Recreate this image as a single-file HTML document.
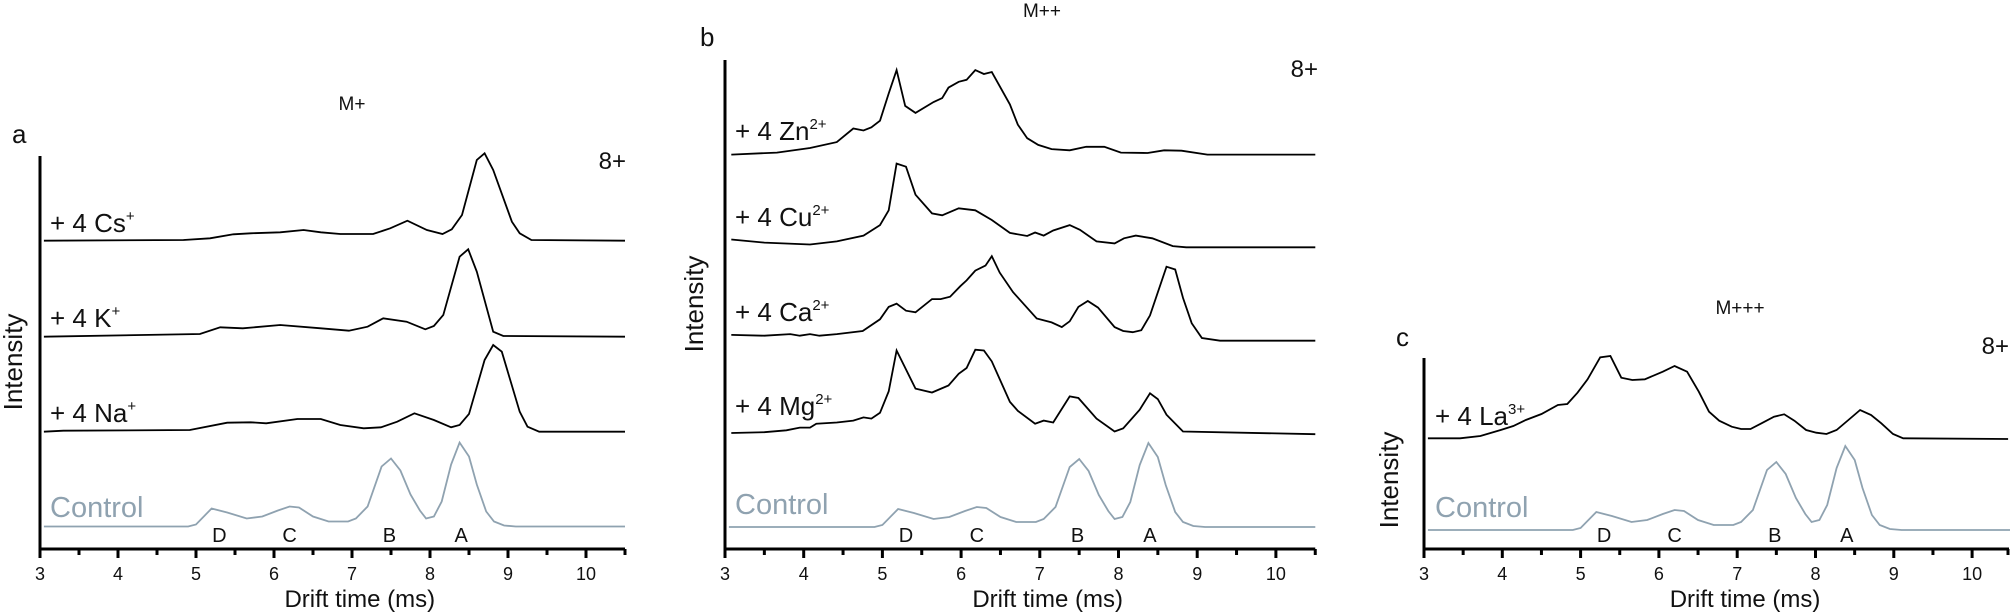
<!DOCTYPE html>
<html><head><meta charset="utf-8">
<style>
html,body{margin:0;padding:0;background:#fff;}
svg{display:block;font-family:"Liberation Sans",sans-serif;}
</style></head>
<body>
<svg id="s" width="2010" height="613" viewBox="0 0 2010 613" xmlns="http://www.w3.org/2000/svg">
<g font-size="19" fill="#111">
<text x="352" y="110" text-anchor="middle">M+</text>
<text x="1042" y="17" text-anchor="middle">M++</text>
<text x="1740" y="314" text-anchor="middle">M+++</text>
</g>
<g font-size="26" fill="#111">
<text x="12" y="143">a</text>
<text x="700" y="46">b</text>
<text x="1396" y="346">c</text>
</g>
<g font-size="24" fill="#111" text-anchor="end">
<text x="626" y="169">8+</text>
<text x="1318" y="77">8+</text>
<text x="2009" y="354">8+</text>
</g>
<g font-size="26" fill="#111">
<text x="50" y="232">+ 4 Cs<tspan font-size="15" dy="-11">+</tspan></text>
<text x="50" y="327">+ 4 K<tspan font-size="15" dy="-11">+</tspan></text>
<text x="50" y="422">+ 4 Na<tspan font-size="15" dy="-11">+</tspan></text>
<text x="735" y="140">+ 4 Zn<tspan font-size="15" dy="-11">2+</tspan></text>
<text x="735" y="226">+ 4 Cu<tspan font-size="15" dy="-11">2+</tspan></text>
<text x="735" y="321">+ 4 Ca<tspan font-size="15" dy="-11">2+</tspan></text>
<text x="735" y="415">+ 4 Mg<tspan font-size="15" dy="-11">2+</tspan></text>
<text x="1435" y="425">+ 4 La<tspan font-size="15" dy="-11">3+</tspan></text>
</g>
<g font-size="29" fill="#8fa2b0">
<text x="50" y="517">Control</text>
<text x="735" y="514">Control</text>
<text x="1435" y="517">Control</text>
</g>
<g font-size="26" fill="#111" text-anchor="middle">
<text transform="translate(22,362) rotate(-90)">Intensity</text>
<text transform="translate(703,304) rotate(-90)">Intensity</text>
<text transform="translate(1398,480) rotate(-90)">Intensity</text>
</g>
<g id="dyn"></g>
</svg>
<script>
(function(){
var NS="http://www.w3.org/2000/svg",g=document.getElementById("dyn");
function el(n,a,t){var e=document.createElementNS(NS,n);for(var k in a)e.setAttribute(k,a[k]);if(t!==undefined)e.textContent=t;g.appendChild(e);return e;}
var ctrl=[[3.05,0],[4.9,0],[5.0,2],[5.2,18],[5.4,14],[5.65,8],[5.85,10],[6.05,16],[6.2,20],[6.32,19],[6.5,10],[6.7,5],[6.95,5],[7.05,8],[7.2,20],[7.38,60],[7.5,68],[7.62,56],[7.75,32],[7.87,16],[7.95,8],[8.05,10],[8.15,25],[8.27,62],[8.38,84],[8.5,70],[8.6,42],[8.72,15],[8.82,5],[8.95,1],[9.1,0],[10.5,0]];
var P=[
 {x0:40,s:78,top:156,bot:549,cb:526.5,series:[
  {f:function(z){return z/3+90},d:[[3.05,452],[4.84,450],[5.18,445],[5.48,433],[5.7,430],[6.08,427],[6.38,420],[6.6,427],[6.85,432],[7.27,432],[7.49,415],[7.71,392],[7.96,420],[8.16,432],[8.28,418],[8.41,375],[8.6,210],[8.7,190],[8.81,240],[9.05,395],[9.15,430],[9.3,450],[10.5,452]]},
  {f:function(z){return z/3+90},d:[[3.05,740],[5.05,732],[5.31,712],[5.6,715],[6.08,705],[6.6,715],[6.96,722],[7.2,710],[7.4,685],[7.7,695],[7.94,718],[8.05,708],[8.17,675],[8.38,500],[8.49,478],[8.6,545],[8.81,725],[8.94,738],[10.5,740]]},
  {f:function(z){return z/3+90},d:[[3.05,1025],[3.3,1022],[4.92,1020],[5.4,998],[5.7,997],[5.9,1000],[6.3,987],[6.6,987],[6.85,1005],[7.15,1015],[7.37,1012],[7.58,995],[7.8,970],[8.05,990],[8.27,1012],[8.38,1005],[8.5,972],[8.7,810],[8.81,765],[8.92,785],[9.15,965],[9.25,1010],[9.4,1025],[10.5,1025]]}
 ]},
 {x0:725,s:78.7,top:60,bot:549,cb:527,series:[
  {f:function(z){return z/2.568},d:[[3.08,397],[3.66,392],[4.08,380],[4.42,365],[4.63,330],[4.76,335],[4.86,327],[4.97,310],[5.08,240],[5.18,180],[5.29,272],[5.42,290],[5.65,262],[5.76,252],[5.84,225],[5.97,210],[6.07,205],[6.18,180],[6.29,190],[6.39,185],[6.62,268],[6.72,320],[6.84,355],[6.98,372],[7.15,383],[7.38,386],[7.59,377],[7.82,377],[8.03,392],[8.37,393],[8.58,386],[8.8,387],[9.13,397],[10.5,397]]},
  {f:function(z){return z/2.568},d:[[3.08,615],[3.5,623],[4.08,628],[4.42,620],[4.76,605],[4.97,578],[5.08,540],[5.18,420],[5.3,428],[5.42,500],[5.63,548],[5.76,553],[5.97,535],[6.18,540],[6.39,565],[6.62,598],[6.84,606],[6.94,597],[7.05,605],[7.17,592],[7.38,578],[7.51,590],[7.72,620],[7.95,625],[8.07,612],[8.22,605],[8.43,612],[8.69,632],[8.86,635],[10.5,635]]},
  {f:function(z){return z/2.568},d:[[3.08,860],[3.5,862],[3.83,858],[3.95,862],[4.08,858],[4.2,862],[4.42,858],[4.75,850],[4.97,820],[5.08,788],[5.18,780],[5.3,798],[5.42,802],[5.63,768],[5.74,768],[5.86,762],[5.99,735],[6.07,720],[6.18,695],[6.31,682],[6.39,658],[6.49,700],[6.66,750],[6.96,818],[7.15,828],[7.28,840],[7.38,825],[7.49,788],[7.61,773],[7.74,790],[7.95,840],[8.06,850],[8.18,853],[8.29,848],[8.4,810],[8.61,685],[8.72,692],[8.82,765],[8.93,830],[9.06,868],[9.29,875],[10.5,875]]},
  {f:function(z){return z/2.568},d:[[3.08,1112],[3.5,1110],[3.78,1105],[3.95,1098],[4.08,1098],[4.16,1088],[4.42,1085],[4.63,1080],[4.76,1072],[4.86,1075],[4.97,1060],[5.08,1005],[5.18,900],[5.42,998],[5.63,1008],[5.84,990],[5.97,960],[6.07,945],[6.18,898],[6.29,900],[6.39,928],[6.62,1032],[6.72,1055],[6.94,1088],[7.05,1080],[7.17,1085],[7.38,1018],[7.49,1022],[7.72,1075],[7.95,1108],[8.06,1100],[8.27,1052],[8.4,1010],[8.5,1025],[8.61,1065],[8.82,1108],[10.5,1115]]}
 ]},
 {x0:1424,s:78.3,top:358,bot:549,cb:530,series:[
  {f:function(z){return z/3+250},d:[[3.05,565],[3.46,565],[3.72,558],[3.98,540],[4.14,528],[4.3,510],[4.5,492],[4.71,465],[4.83,462],[4.96,428],[5.09,388],[5.25,322],[5.38,318],[5.52,383],[5.66,390],[5.82,388],[6.05,365],[6.2,348],[6.36,365],[6.51,425],[6.64,485],[6.77,512],[6.93,530],[7.05,537],[7.17,537],[7.31,520],[7.47,500],[7.6,493],[7.73,512],[7.88,540],[8.01,548],[8.14,552],[8.27,540],[8.42,510],[8.57,480],[8.71,495],[8.84,520],[8.99,552],[9.12,565],[10.46,567]]}
 ]}
];
P.forEach(function(p){
 function X(t){return p.x0+(t-3)*p.s;}
 var xe=Math.min(X(10.5),2009);
 el("line",{x1:p.x0,y1:p.top,x2:p.x0,y2:p.bot+1.5,stroke:"#000","stroke-width":3});
 el("line",{x1:p.x0-1.5,y1:p.bot,x2:xe,y2:p.bot,stroke:"#000","stroke-width":3});
 for(var t=3;t<=10.51;t+=0.5){
  var x=X(t);if(x>2009)x=2008;
  var maj=Math.abs(t-Math.round(t))<0.01;
  el("line",{x1:x,y1:p.bot,x2:x,y2:p.bot+(maj?9:6),stroke:"#000","stroke-width":3});
  if(maj)el("text",{x:X(t),y:p.bot+31,"text-anchor":"middle","font-size":"18",fill:"#111"},String(t));
 }
 el("text",{x:X(7.1),y:p.bot+58,"text-anchor":"middle","font-size":"24",fill:"#111"},"Drift time (ms)");
 p.series.forEach(function(s){
  var pts=s.d.map(function(q){return X(q[0]).toFixed(1)+","+s.f(q[1]).toFixed(1)}).join(" ");
  el("polyline",{points:pts,fill:"none",stroke:"#000","stroke-width":1.8,"stroke-linejoin":"miter"});
 });
 var cp=ctrl.map(function(q){return X(q[0]).toFixed(1)+","+(p.cb-q[1]).toFixed(1)}).join(" ");
 el("polyline",{points:cp,fill:"none",stroke:"#8fa2b0","stroke-width":1.8});
 [["D",5.3],["C",6.2],["B",7.48],["A",8.4]].forEach(function(l){
  el("text",{x:X(l[1]),y:p.bot-7,"text-anchor":"middle","font-size":"20",fill:"#111"},l[0]);
 });
});
})();
</script>
</body></html>
